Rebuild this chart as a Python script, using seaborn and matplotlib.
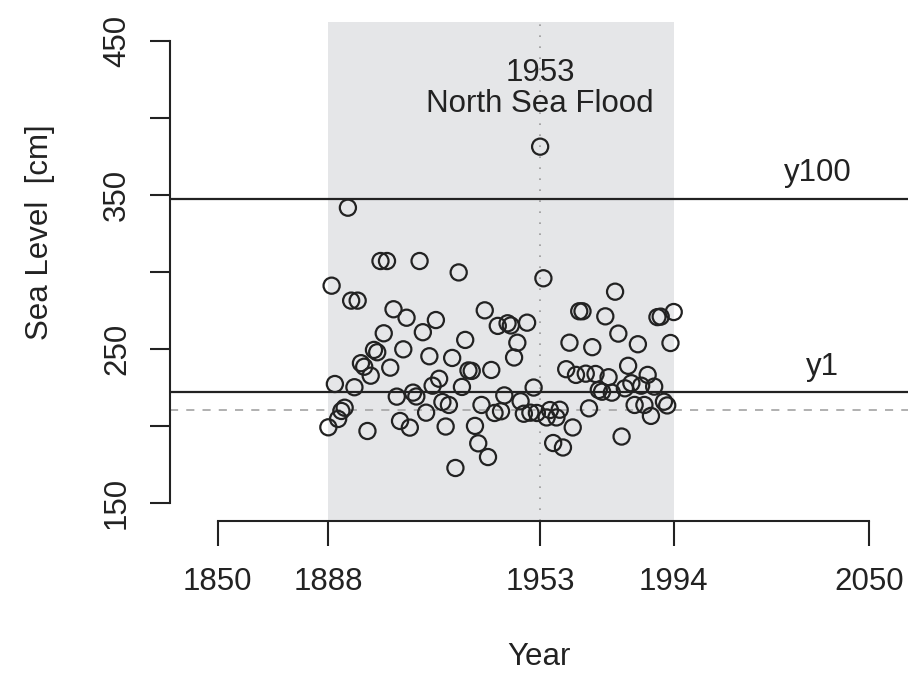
import numpy as np
import pandas as pd
import matplotlib
matplotlib.use("Agg")
import matplotlib.pyplot as plt
import seaborn as sns

# ---- data -------------------------------------------------------------
years = list(range(1888, 1995))
sea_level = [
    199.3, 291.2, 227.4, 204.7, 209.9, 212.0, 341.8, 281.5, 225.3, 281.5,
    240.9, 238.6, 196.9, 232.8, 249.5, 248.0, 307.2, 260.3, 307.2, 238.0,
    275.9, 219.2, 203.4, 249.9, 270.4, 199.1, 221.8, 219.3, 307.2, 261.0,
    208.8, 245.4, 226.3, 268.9, 230.8, 215.7, 199.8, 213.8, 244.3, 172.9,
    299.8, 225.5, 256.0, 236.2, 235.9, 200.2, 188.9, 213.8, 275.2, 180.0,
    236.5, 208.6, 265.1, 209.7, 220.0, 266.8, 265.4, 244.6, 254.2, 216.2,
    208.1, 267.2, 208.8, 225.1, 208.6, 381.4, 296.0, 205.7, 210.5, 189.1,
    205.7, 210.7, 186.2, 237.0, 254.2, 199.2, 233.3, 274.6, 274.6, 234.1,
    211.6, 251.3, 233.9, 223.5, 222.4, 271.3, 231.8, 221.8, 287.3, 260.1,
    193.3, 224.6, 239.2, 227.9, 213.8, 253.2, 226.3, 213.8, 233.3, 206.7,
    225.7, 270.8, 271.1, 215.9, 213.5, 254.0, 274.1,
]
period = [1888, 1994]
flood_year = 1953
y100 = 347.3
y1 = 222.2
baseline = 210.5
x_tick_pos = [1854, 1888, 1953, 1994, 2054]
x_tick_labels = ["1850", "1888", "1953", "1994", "2050"]
y_ticks = [150, 200, 250, 300, 350, 400, 450]
y_tick_labels = ["150", "", "250", "", "350", "", "450"]

df = pd.DataFrame({"Year": years, "Sea Level": sea_level})

# ---- style ------------------------------------------------------------
sns.set_style("white")
plt.rcParams["font.family"] = ["Liberation Sans", "DejaVu Sans"]
FS = 22.5
ink = "#222222"

fig = plt.figure(figsize=(9.08, 6.80), dpi=100)
ax = fig.add_axes([170 / 908, 159 / 680, 738 / 908, 499 / 680])

ax.axvspan(period[0], period[1], color="#e5e6e8", lw=0, zorder=0)
ax.axvline(flood_year, color="#9a9a9a", lw=1.2, ls=(0, (1, 5.6)), zorder=1)
ax.axhline(y100, color=ink, lw=1.6, zorder=2)
ax.axhline(y1, color=ink, lw=1.6, zorder=2)
ax.axhline(baseline, color="#aaaaaa", lw=1.3, ls=(0, (4.5, 4.5)), zorder=1)

sns.scatterplot(data=df, x="Year", y="Sea Level", ax=ax, s=135,
                facecolors="none", edgecolor=ink, linewidth=1.6, zorder=3)
ax.collections[-1].set_facecolor("none")

ax.set_xlim(1839.4, 2065.9)
ax.set_ylim(138.5, 462.3)

ax.text(flood_year, 429.2, "1953", ha="center", va="center", fontsize=FS, color=ink)
ax.text(flood_year, 409.1, "North Sea Flood", ha="center", va="center", fontsize=FS, color=ink)
ax.text(2038.3, 364.0, "y100", ha="center", va="center", fontsize=FS, color=ink)
ax.text(2039.5, 238.2, "y1", ha="center", va="center", fontsize=FS, color=ink)

for s in ["top", "right"]:
    ax.spines[s].set_visible(False)
for s in ["left", "bottom"]:
    ax.spines[s].set_visible(True)
    ax.spines[s].set_color(ink)
    ax.spines[s].set_linewidth(1.5)
ax.spines["left"].set_bounds(150, 450)
ax.spines["bottom"].set_bounds(x_tick_pos[0], x_tick_pos[-1])

ax.set_xticks(x_tick_pos)
ax.set_xticklabels(x_tick_labels)
ax.set_yticks(y_ticks)
ax.set_yticklabels(y_tick_labels, rotation=90, va="center")
ax.tick_params(axis="both", direction="out", width=1.5,
               color=ink, labelsize=FS, labelcolor=ink, left=True, bottom=True)
ax.tick_params(axis="x", length=18, pad=15)
ax.tick_params(axis="y", length=14.4, pad=13)

ax.set_xlabel("Year", fontsize=FS, color=ink)
ax.set_ylabel("Sea Level  [cm]", fontsize=FS, color=ink)
ax.xaxis.label.set_va("center")
ax.xaxis.set_label_coords(0.5, (521 - 657) / 499)
ax.yaxis.label.set_va("center")
ax.yaxis.set_label_coords((40 - 170) / 738, (521 - 232.5) / 499)

fig.savefig("out.png", dpi=100)
